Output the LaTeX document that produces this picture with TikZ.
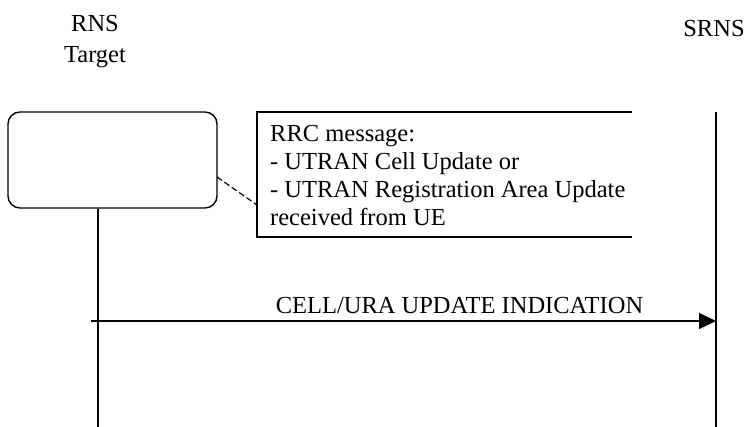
\documentclass[tikz,border=0pt]{standalone}
\usepackage{fontspec}
\setmainfont{Liberation Serif}
\usepackage{tikz}
\usetikzlibrary{arrows.meta,positioning}

\tikzset{
  entity/.style={font=\fontsize{24.5}{31}\selectfont, align=center, inner sep=0pt, anchor=base},
  procbox/.style={draw, line width=1.4pt, rounded corners=12pt, minimum width=209pt, minimum height=96pt, inner sep=0pt},
  notetext/.style={font=\fontsize{24.5}{28}\selectfont, align=left, inner sep=0pt, anchor=north west},
  lifeline/.style={line width=1.4pt},
  msgarrow/.style={line width=1.4pt, -{Triangle[length=17pt,width=16pt]}}
}

\begin{document}
\begin{tikzpicture}[x=1pt,y=1pt]
   \useasboundingbox (0,0) rectangle (751,427);
   \draw (95,364) node[entity] (rns) {RNS\\Target};
   \draw (714,390) node[entity] (srns) {SRNS};

   \draw (112.5,267) node[procbox] (update) {};
   \draw (270,302) node[notetext] (rrc) {RRC message:\\- UTRAN Cell Update or\\- UTRAN Registration Area Update\\received from UE};

   % note frame, open on the right
   \coordinate (noteTL) at (257,315);
   \coordinate (noteBL) at (257,190);
   \coordinate (noteTR) at (632,315);
   \coordinate (noteBR) at (632,190);
   \draw[line width=1.2pt] (noteTR) -- (noteTL) -- (noteBL) -- (noteBR);

   \coordinate (dashA) at (217,250);
   \coordinate (dashB) at (257,222);
   \draw[dash pattern=on 6pt off 3pt, line width=1.2pt] (dashA) -- (dashB);

   % lifelines
   \coordinate (tgtTop) at (98,219);
   \coordinate (tgtEnd) at (98,0);
   \coordinate (srnsTop) at (716,315);
   \coordinate (srnsEnd) at (716,0);
   \path[lifeline] (update.south -| tgtTop) edge (tgtEnd);
   \path[lifeline] (srnsTop) edge (srnsEnd);

   \coordinate (msgStart) at (91,106);
   \coordinate (msgEnd) at (716,106);
   \path[msgarrow] (msgStart) edge node[above=3pt, font=\fontsize{24.5}{28}\selectfont, xshift=56pt] (ind) {CELL/URA UPDATE INDICATION} (msgEnd);
\end{tikzpicture}
\end{document}
